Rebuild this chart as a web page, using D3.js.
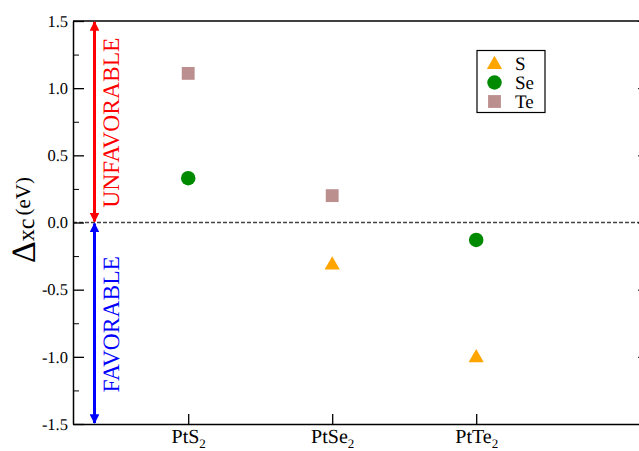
<!DOCTYPE html>
<html><head><meta charset="utf-8">
<script src="https://cdn.jsdelivr.net/npm/d3@7"></script>
<style>body{margin:0;background:#fff}svg{display:block}svg text{font-family:"Liberation Serif","Times New Roman",serif !important;text-rendering:geometricPrecision}</style>
</head><body>
<svg id="c" width="639" height="451"></svg>
<script>
const categories = ["PtS", "PtSe", "PtTe"];
const seriesNames = ["S", "Se", "Te"];
const sValues  = [null, -0.31, -1.00];
const seValues = [0.33, null, -0.13];
const teValues = [1.11, 0.20, null];
const yTickValues = [-1.5, -1.0, -0.5, 0.0, 0.5, 1.0, 1.5];
const yTickLabels = ["-1.5", "-1.0", "-0.5", "0.0", "0.5", "1.0", "1.5"];
const yMinorValues = [-1.25, -0.75, -0.25, 0.25, 0.75, 1.25];
const colors = {S: "#ffa500", Se: "#008a00", Te: "#bc8f8f"};
const SERIF = '"Liberation Serif","Times New Roman",serif';

const svg = d3.select("#c");
const L = 73, R = 649, T = 21, B = 424;
const x = d3.scaleLinear().domain([0.2, 4.2]).range([L, R]);
const y = d3.scaleLinear().domain([-1.5, 1.5]).range([B, T]);

// zero dashed line
svg.append("line").attr("x1", L).attr("x2", R).attr("y1", y(0)).attr("y2", y(0))
  .attr("stroke", "#444").attr("stroke-width", 1.5).attr("stroke-dasharray", "4,2");

// left axis
const gl = svg.append("g").attr("transform", `translate(${L},0)`)
  .call(d3.axisLeft(y).tickValues(yTickValues).tickSizeInner(-11).tickSizeOuter(0).tickPadding(5)
    .tickFormat((d, i) => yTickLabels[i]));
gl.attr("font-family", SERIF);
gl.select(".domain").attr("stroke-width", 1.5);
gl.selectAll(".tick line").attr("stroke-width", 1.3);
gl.selectAll("text").attr("font-size", 16.5).style("font-family", SERIF).attr("fill", "#000");
svg.append("g").attr("transform", `translate(${L},0)`)
  .call(d3.axisLeft(y).tickValues(yMinorValues).tickSizeInner(-6).tickSizeOuter(0).tickFormat(""))
  .call(g => g.select(".domain").remove());

// right axis
const gr = svg.append("g").attr("transform", `translate(${R},0)`)
  .call(d3.axisRight(y).tickValues(yTickValues).tickSizeInner(-11).tickSizeOuter(0).tickFormat(""));
gr.select(".domain").attr("stroke-width", 1.5);

// top border
svg.append("line").attr("x1", L).attr("x2", R).attr("y1", T).attr("y2", T).attr("stroke", "#000").attr("stroke-width", 1.5);

// bottom axis
const gb = svg.append("g").attr("transform", `translate(0,${B})`)
  .call(d3.axisBottom(x).tickValues([1, 2, 3]).tickSizeInner(-10).tickSizeOuter(0).tickFormat(""));
gb.attr("font-family", SERIF);
gb.select(".domain").attr("stroke-width", 1.5);
gb.selectAll(".tick line").attr("stroke-width", 1.3);
gb.selectAll(".tick").each(function(d, i) {
  const t = d3.select(this).append("text").attr("y", 19).attr("dy", 0)
    .attr("text-anchor", "middle").attr("font-size", 20).attr("fill", "#000")
    .style("font-family", SERIF);
  t.append("tspan").text(categories[i]);
  t.append("tspan").attr("font-size", 13).attr("dy", 4.5).text("2");
});

// arrows
const defs = svg.append("defs");
function marker(id, color) {
  defs.append("marker").attr("id", id).attr("viewBox", "0 0 10 10").attr("refX", 9).attr("refY", 5)
    .attr("markerWidth", 3.2).attr("markerHeight", 3.2).attr("markerUnits", "strokeWidth")
    .attr("orient", "auto-start-reverse")
    .append("path").attr("d", "M0,0 L10,5 L0,10 Z").attr("fill", color);
}
marker("ar", "#ff0000"); marker("ab", "#0000ff");
const ax = 94.5;
svg.append("line").attr("x1", ax).attr("x2", ax).attr("y1", y(1.5) + 1).attr("y2", y(0) - 1)
  .attr("stroke", "#ff0000").attr("stroke-width", 3)
  .attr("marker-start", "url(#ar)").attr("marker-end", "url(#ar)");
svg.append("line").attr("x1", ax).attr("x2", ax).attr("y1", y(0) + 1).attr("y2", y(-1.5) - 1)
  .attr("stroke", "#0000ff").attr("stroke-width", 3)
  .attr("marker-start", "url(#ab)").attr("marker-end", "url(#ab)");

svg.append("text").attr("transform", `translate(119,${(y(1.5) + y(0)) / 2 + 1}) rotate(-90)`)
  .attr("text-anchor", "middle").attr("font-size", 23.5).attr("fill", "#ff0000").text("UNFAVORABLE");
svg.append("text").attr("transform", `translate(119,${(y(0) + y(-1.5)) / 2 + 1}) rotate(-90)`)
  .attr("text-anchor", "middle").attr("font-size", 23.5).attr("fill", "#0000ff").text("FAVORABLE");

// y title
const yt = svg.append("text").attr("transform", "translate(35,220) rotate(-90)")
  .attr("text-anchor", "middle").attr("fill", "#000");
yt.append("tspan").attr("font-size", 34).text("\u0394");
yt.append("tspan").attr("font-size", 24).attr("dy", -1).text("xc");
yt.append("tspan").attr("font-size", 21).attr("dy", -4).attr("dx", 3).text("(eV)");

// markers
const sym = {
  S: d3.symbol().type(d3.symbolTriangle).size(100),
  Se: d3.symbol().type(d3.symbolCircle).size(165),
  Te: d3.symbol().type(d3.symbolSquare).size(165)
};
const series = [["S", sValues], ["Se", seValues], ["Te", teValues]];
series.forEach(([name, vals]) => {
  svg.append("g").selectAll("path").data(vals.map((v, i) => ({v, i})).filter(d => d.v !== null))
    .join("path")
    .attr("transform", d => `translate(${x(d.i + 1)},${y(d.v) + (name === "S" ? 1 : 0)})`)
    .attr("d", sym[name]()).attr("fill", colors[name]);
});

// legend
const lg = svg.append("g");
lg.append("rect").attr("x", 477).attr("y", 50.5).attr("width", 68).attr("height", 62)
  .attr("fill", "#fff").attr("stroke", "#000").attr("stroke-width", 1.2);
seriesNames.forEach((n, i) => {
  const cy = 63.5 + i * 19;
  lg.append("path").attr("transform", `translate(494.5,${cy + (n === "S" ? 1 : 0)})`).attr("d", sym[n]()).attr("fill", colors[n]);
  lg.append("text").attr("x", 515).attr("y", cy + 6.5).attr("font-size", 19).attr("fill", "#000")
    .style("font-family", SERIF).text(n);
});
</script>
</body></html>
